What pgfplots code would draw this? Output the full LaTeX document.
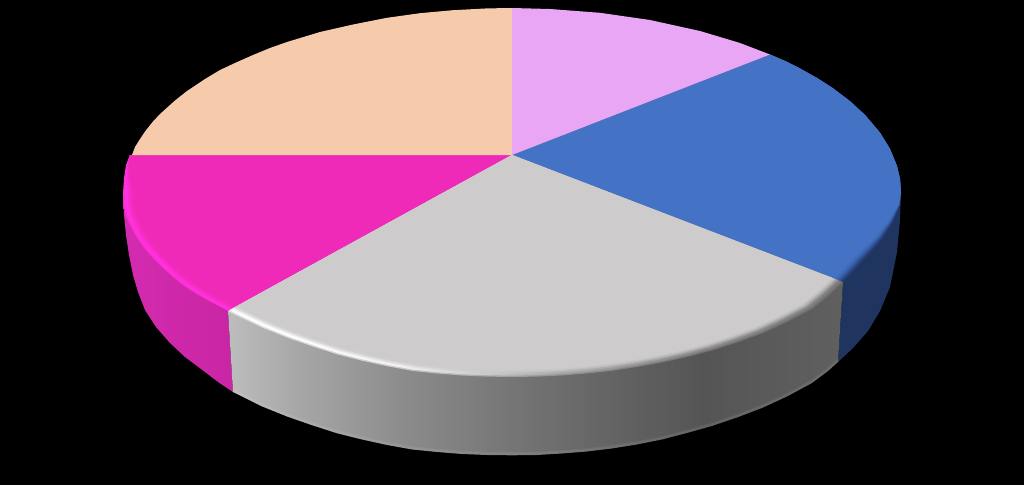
\documentclass[border=0pt]{standalone}
\usepackage{pgfplots}
\usepackage{pgfplotstable}
\pgfplotsset{compat=1.18}

\definecolor{peach}{RGB}{246,203,172}
\definecolor{lilac}{RGB}{233,166,245}
\definecolor{bluetop}{RGB}{68,114,196}
\definecolor{blueside}{RGB}{31,53,96}
\definecolor{blueedge}{RGB}{34,60,115}
\definecolor{graytop}{RGB}{205,203,203}
\definecolor{magtop}{RGB}{240,42,184}
\definecolor{magedge}{RGB}{255,50,222}

% the path's bounding box takes the stretch from 25bp to 75bp of a shading
\pgfdeclarehorizontalshading{grayside}{100bp}{
  rgb(0bp)=(0.74,0.74,0.74);
  rgb(25bp)=(0.74,0.74,0.74);
  rgb(31bp)=(0.65,0.65,0.65);
  rgb(39bp)=(0.55,0.55,0.55);
  rgb(47bp)=(0.47,0.47,0.47);
  rgb(55bp)=(0.40,0.40,0.40);
  rgb(63.5bp)=(0.333,0.333,0.333);
  rgb(75bp)=(0.376,0.376,0.376);
  rgb(100bp)=(0.376,0.376,0.376)}
\pgfdeclarehorizontalshading{grayglow}{100bp}{
  rgb(0bp)=(1,1,1);
  rgb(31bp)=(1,1,1);
  rgb(39bp)=(0.95,0.95,0.95);
  rgb(45.5bp)=(0.80,0.80,0.80);
  rgb(52bp)=(0.659,0.659,0.659);
  rgb(63.5bp)=(0.529,0.529,0.529);
  rgb(75bp)=(0.49,0.49,0.49);
  rgb(100bp)=(0.49,0.49,0.49)}
\pgfdeclarehorizontalshading{magside}{100bp}{
  rgb(0bp)=(0.83,0.17,0.69);
  rgb(25bp)=(0.83,0.17,0.69);
  rgb(75bp)=(0.76,0.13,0.61);
  rgb(100bp)=(0.76,0.13,0.61)}

% pixel coordinates of the top faces, w = how much of the bevel a point gets
\pgfplotstableread{
x y w
512 155 1
130 155 0
126 165 0.3
124 178 0.6
123 193 1
123.6 205 1
126 216 1
130 225 1
137 238 1
145 249 1
153 258 1
163 268 1
173 277 1
183 285 1
195 293 1
211 302 1
228 311 1
}\magtable
\pgfplotstableread{
x y w
512 155 1
770 54.5 0
785 61 0
800 68.5 0
817 78 0
833 88.3 0
850 101.2 0
865 115 0
880 132.7 0
890 149 0
897 166 0
900 179 0
901 192.5 0
900 205 0.15
893 222 0.45
883 238 0.7
873 250 0.9
863 261 1
853 272 1
843 282 1
}\bluetable
\pgfplotstableread{
x y w
512 155 1
843 282 1
828 296 1
812 309 1
787 322 1
762 333.5 1
737 342.5 1
712 350.5 1
687 357 1
662 362.5 1
637 367 1
612 370.8 1
587 373.5 1
562 375.5 1
537 376.6 1
512 377 1
487 376.6 1
462 375.5 1
437 373.5 1
412 370.8 1
387 366.2 1
362 360.7 1
337 354.3 1
312 346.2 1
287 337.5 1
262 327.4 1
237 315.5 1
228 311 1
}\graytable
\pgfplotstableread{
x y
233 392
262 406.4
287 416.5
312 425.2
337 433.3
362 439.5
387 445
412 449.5
437 452
462 454
487 455
512 455.3
537 455
562 453.5
587 451.5
612 448.5
637 444.5
662 439.5
687 433
712 426
737 417.5
762 408
787 396.5
812 383
828 371
838 362
}\graybottom
\pgfplotstableread{
x y
228 311
233 392
262 406.4
287 416.5
312 425.2
337 433.3
362 439.5
387 445
412 449.5
437 452
462 454
487 455
512 455.3
537 455
562 453.5
587 451.5
612 448.5
637 444.5
662 439.5
687 433
712 426
737 417.5
762 408
787 396.5
812 383
828 371
838 362
843 282
512 200
}\graysidetable

\newcommand{\layer}[3]{%
  \addplot[draw=none,#3] table[
    x expr={512+(\thisrow{x}-512)*(1-#2*\thisrow{w})},
    y expr={155+(\thisrow{y}-155)*(1-#2*\thisrow{w})}] {#1};}

\begin{document}
\begin{tikzpicture}
\begin{axis}[
  scale only axis, width=1024pt, height=485pt,
  xmin=0, xmax=1024, ymin=0, ymax=485, y dir=reverse,
  enlargelimits=false, hide axis, no markers,
  clip bounding box=upper bound]

% background
\addplot[draw=none, fill=black] coordinates {(0,0) (1024,0) (1024,485) (0,485)};

% sides
\addplot[draw=none, shading=magside] coordinates {
  (123,193) (124,215) (126,235) (129,255) (133,275) (138,292) (145,310)
  (156,327) (170,343) (185,357) (203,370.5) (218,382) (233,392) (228,311) (300,200)};
\addplot[draw=none, fill=blueside] coordinates {
  (901,193) (900,220) (897,252) (890,287) (880,311) (868,331) (853,348) (838,362)
  (843,282) (700,200)};
\addplot[draw=none, shading=grayside] table {\graysidetable};
\addplot[draw=white, line width=3pt, opacity=0.05] table[y expr={\thisrow{y}-1.8}] {\graybottom};
\addplot[draw=white, line width=1.5pt, opacity=0.05] table[y expr={\thisrow{y}-1.4}] {\graybottom};

% magenta wedge
\layer{\magtable}{0}{fill=magedge!70!magtop}
\layer{\magtable}{0.005}{fill=magedge}
\layer{\magtable}{0.012}{fill=magtop, fill opacity=0.35}
\layer{\magtable}{0.018}{fill=magtop, fill opacity=0.55}
\layer{\magtable}{0.024}{fill=magtop, fill opacity=0.7}
\layer{\magtable}{0.030}{fill=magtop}

% blue wedge
\layer{\bluetable}{0}{fill=blueedge}
\layer{\bluetable}{0.006}{fill=bluetop, fill opacity=0.3}
\layer{\bluetable}{0.012}{fill=bluetop, fill opacity=0.45}
\layer{\bluetable}{0.018}{fill=bluetop, fill opacity=0.65}
\layer{\bluetable}{0.026}{fill=bluetop}

% gray wedge
\layer{\graytable}{0}{shading=grayglow, fill opacity=0.6}
\layer{\graytable}{0.006}{shading=grayglow}
\layer{\graytable}{0.014}{fill=graytop, fill opacity=0.3}
\layer{\graytable}{0.020}{fill=graytop, fill opacity=0.5}
\layer{\graytable}{0.026}{fill=graytop, fill opacity=0.7}
\layer{\graytable}{0.032}{fill=graytop}

% flat back wedges
\addplot[draw=none, fill=peach] coordinates {
  (512,155) (132,155) (135,147) (140,139) (145,131.5) (153,121.5) (160,114)
  (175,100.5) (187,91) (205,79) (220,70) (235,63) (253,55) (270,48) (287,42)
  (320,32) (353,24.5) (387,17.8) (420,13.2) (453,10.2) (487,8.4) (512,8)};
\addplot[draw=none, fill=lilac] coordinates {
  (512,155) (512,8) (550,9) (600,12.8) (650,20) (700,31) (740,43) (770,54.5)};
\end{axis}
\end{tikzpicture}
\end{document}
